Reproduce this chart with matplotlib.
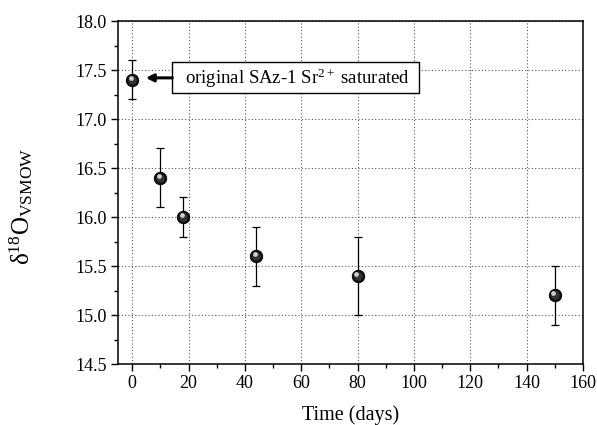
import matplotlib
matplotlib.use("Agg")
import matplotlib.pyplot as plt
from matplotlib.ticker import MultipleLocator, FormatStrFormatter
from matplotlib.patches import Rectangle

plt.rcParams['font.family'] = ['Liberation Serif', 'DejaVu Serif']
plt.rcParams['mathtext.fontset'] = 'custom'
plt.rcParams['mathtext.rm'] = 'Liberation Serif'
plt.rcParams['mathtext.it'] = 'Liberation Serif'

# data
days = [0, 10, 18, 44, 80, 150]
d18o = [17.4, 16.4, 16.0, 15.6, 15.4, 15.2]
err = [0.2, 0.3, 0.2, 0.3, 0.4, 0.3]
note = r'original SAz-1 Sr$^{2+}$ saturated'

fig = plt.figure(figsize=(5.97, 4.25), dpi=100)
ax = fig.add_axes([0.198, 0.1435, 0.7785, 0.807])

ax.errorbar(days, d18o, yerr=err, fmt='none', ecolor='black', elinewidth=0.9,
            capsize=3.2, capthick=0.9, zorder=3)
# sphere-like markers
ax.plot(days, d18o, 'o', ms=9, mfc='#111111', mec='black', mew=0.6, zorder=4)
ax.plot(days, d18o, 'o', ms=6, mfc='#333333', mec='none', zorder=5)
ax.plot([d - 0.5 for d in days], [v + 0.02 for v in d18o], 'o', ms=3.4,
        mfc='#d0d0d0', mec='none', zorder=6)

ax.set_xlim(-5, 160)
ax.set_ylim(14.5, 18.0)
ax.xaxis.set_major_locator(MultipleLocator(20))
ax.xaxis.set_minor_locator(MultipleLocator(10))
ax.yaxis.set_major_locator(MultipleLocator(0.5))
ax.yaxis.set_minor_locator(MultipleLocator(0.25))
ax.yaxis.set_major_formatter(FormatStrFormatter('%.1f'))

ax.tick_params(which='major', direction='out', length=5, width=1.0, labelsize=13, pad=3)
ax.tick_params(which='minor', direction='out', length=3, width=1.0)
for s in ax.spines.values():
    s.set_linewidth(1.1)

ax.grid(True, which='major', linestyle=(0, (1, 2)), color='#555555', linewidth=0.8)
ax.set_axisbelow(True)

ax.set_xlabel('Time (days)', fontsize=14.5)
ax.xaxis.set_label_coords(0.5, -0.12)
ax.set_ylabel('δ$^{18}$O$_{\\mathrm{VSMOW}}$', fontsize=18)
ax.yaxis.set_label_coords(-0.18, 0.46)

# annotation box
ax.add_patch(Rectangle((14.2, 17.265), 87.6, 0.315, fc='white', ec='black',
                       lw=1.0, zorder=7))
ax.text(18.8, 17.42, note, fontsize=13.5, va='center', ha='left', zorder=8)
ax.annotate('', xy=(4.8, 17.42), xytext=(14.2, 17.42),
            arrowprops=dict(arrowstyle='-|>', color='black', lw=2.2,
                            mutation_scale=11, shrinkA=0, shrinkB=0), zorder=8)

fig.savefig('out.png', dpi=100)
